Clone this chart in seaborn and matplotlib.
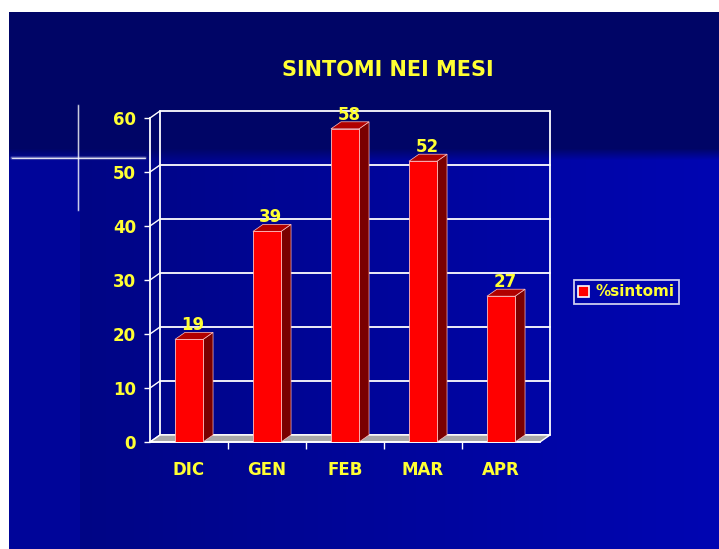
import numpy as np
import pandas as pd
import matplotlib
matplotlib.use('Agg')
import matplotlib.pyplot as plt
import seaborn as sns
from matplotlib.patches import Polygon, Patch
from matplotlib.transforms import IdentityTransform
from matplotlib.lines import Line2D

# dati
mesi = ['DIC', 'GEN', 'FEB', 'MAR', 'APR']
sintomi = [19, 39, 58, 52, 27]
y_ticks = [0, 10, 20, 30, 40, 50, 60]

df = pd.DataFrame({'mese': mesi, 'sintomi': sintomi})

sns.set_theme(style='white')
plt.rcParams['font.family'] = ['Liberation Sans Narrow', 'DejaVu Sans']

YELLOW = '#ffff33'
DX, DY = 10, 7  # profondita' 3D in pixel

fig = plt.figure(figsize=(7.19, 5.49), dpi=100, facecolor='white')

# sfondo blu
H, W = 537, 710
rows = np.arange(H)[:, None] + 12
cols = np.arange(W)[None, :] + 9
blue = np.full((H, W), 0.40)
low = 0.50 + 0.20 * (cols / 719.0)
low = np.where(cols < 80, 0.60, low) * np.ones_like(rows, dtype=float)
mix = np.clip((rows - 148) / 12.0, 0, 1)
blue = blue * (1 - mix) + low * mix
img = np.dstack([np.zeros_like(blue), np.zeros_like(blue) + 0.02, blue])
ax_bg = fig.add_axes([9 / 719, 0, 710 / 719, 537 / 549])
ax_bg.imshow(img, aspect='auto', extent=(9, 719, 549, 12))
ax_bg.set_xlim(9, 719)
ax_bg.set_ylim(549, 12)
ax_bg.axis('off')
# stellina
for lw, a in [(3, 0.15), (1.5, 0.35), (0.8, 0.8)]:
    ax_bg.plot([12, 145], [158, 158], color='white', lw=lw, alpha=a)
    ax_bg.plot([78, 78], [105, 210], color='white', lw=lw * 0.7, alpha=a)

# grafico
ax = fig.add_axes([150 / 719, 107 / 549, 390 / 719, 324 / 549])
ax.patch.set_alpha(0)
sns.barplot(data=df, x='mese', y='sintomi', color='#ff0000', width=0.36,
            saturation=1, edgecolor='#ffc0c0', linewidth=0.6, ax=ax, zorder=5)
ax.set_xlim(-0.5, 4.5)
ax.set_ylim(0, 60)
ax.set_xlabel('')
ax.set_ylabel('')


def to_disp(x, y):
    return ax.transData.transform((x, y))


def shifted(p):
    return (p[0] + DX, p[1] + DY)


# pavimento grigio
f0, f1 = to_disp(-0.5, 0), to_disp(4.5, 0)
ax.add_patch(Polygon([f0, f1, shifted(f1), shifted(f0)], closed=True,
                     transform=IdentityTransform(), facecolor='#a8a8a8',
                     edgecolor='white', lw=1, clip_on=False, zorder=2))

# griglia sul fondo + diagonali
for v in y_ticks:
    a, b = to_disp(-0.5, v), to_disp(4.5, v)
    ax.add_line(Line2D([shifted(a)[0], shifted(b)[0]], [shifted(a)[1], shifted(b)[1]],
                       transform=IdentityTransform(), color='white', lw=1.3,
                       clip_on=False, zorder=1))
    ax.add_line(Line2D([a[0], shifted(a)[0]], [a[1], shifted(a)[1]],
                       transform=IdentityTransform(), color='white', lw=1,
                       clip_on=False, zorder=1))
for xv in [-0.5, 4.5]:
    a, b = to_disp(xv, 0), to_disp(xv, 60)
    ax.add_line(Line2D([shifted(a)[0], shifted(b)[0]], [shifted(a)[1], shifted(b)[1]],
                       transform=IdentityTransform(), color='white', lw=1.3,
                       clip_on=False, zorder=1))

# barre 3D
for bar, val in zip(ax.patches, sintomi):
    x0, w, h = bar.get_x(), bar.get_width(), bar.get_height()
    bl, br = to_disp(x0, 0), to_disp(x0 + w, 0)
    tl, tr = to_disp(x0, h), to_disp(x0 + w, h)
    ax.add_patch(Polygon([br, tr, shifted(tr), shifted(br)], closed=True,
                         transform=IdentityTransform(), facecolor='#7a0000',
                         edgecolor='#ffc0c0', lw=0.5, clip_on=False, zorder=4))
    ax.add_patch(Polygon([tl, tr, shifted(tr), shifted(tl)], closed=True,
                         transform=IdentityTransform(), facecolor='#b00000',
                         edgecolor='#ffc0c0', lw=0.5, clip_on=False, zorder=4))
    ax.annotate(str(val), (x0 + w / 2, h), xytext=(4, 14), textcoords='offset pixels',
                ha='center', va='center', color=YELLOW, fontsize=12,
                fontweight='bold', zorder=6)

# assi
for s in ['top', 'right']:
    ax.spines[s].set_visible(False)
for s in ['left', 'bottom']:
    ax.spines[s].set_color('white')
    ax.spines[s].set_linewidth(1.3)
    ax.spines[s].set_zorder(3)
ax.set_yticks(y_ticks)
ax.set_yticklabels([str(t) for t in y_ticks])
ax.tick_params(axis='y', colors='white', labelcolor=YELLOW, length=4, width=1,
               labelsize=12, pad=6, left=True)
ax.set_xticks(np.arange(len(mesi)))
ax.set_xticks(np.arange(0.5, 4.5, 1), minor=True)
ax.tick_params(axis='x', which='major', length=0, labelcolor=YELLOW, labelsize=12, pad=14)
ax.tick_params(axis='x', which='minor', length=5, color='white', width=1, bottom=True)
for lab in ax.get_xticklabels() + ax.get_yticklabels():
    lab.set_fontweight('bold')

fig.text(388 / 719, 1 - 70 / 549, 'SINTOMI NEI MESI', ha='center', va='center',
         color=YELLOW, fontsize=15, fontweight='bold')

leg = fig.legend(handles=[Patch(facecolor='#ff0000', edgecolor='white', lw=1.2)],
                 labels=['%sintomi'], loc='center left',
                 bbox_to_anchor=(566 / 719, 1 - 292 / 549), frameon=True,
                 fancybox=False, handlelength=0.7, handleheight=0.7,
                 handletextpad=0.4, borderpad=0.3, prop={'weight': 'bold', 'size': 11})
leg.get_frame().set_facecolor('none')
leg.get_frame().set_edgecolor('white')
leg.get_frame().set_linewidth(1.3)
for t in leg.get_texts():
    t.set_color(YELLOW)

fig.savefig('out.png', dpi=100)
